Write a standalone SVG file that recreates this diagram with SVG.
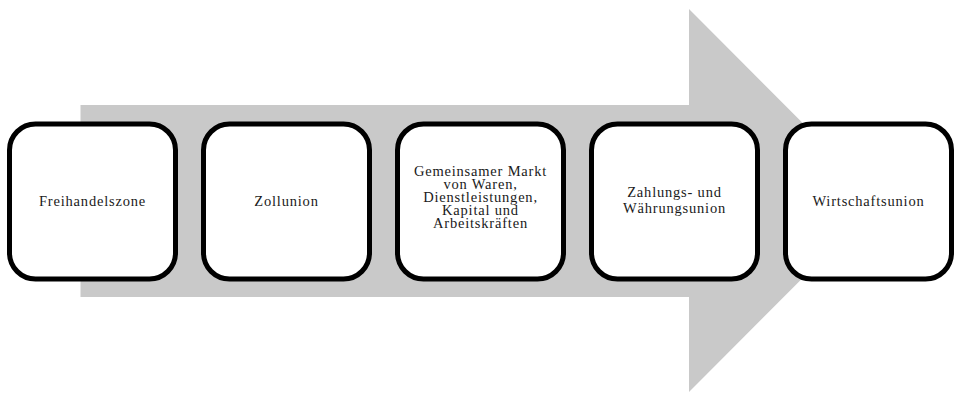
<svg xmlns="http://www.w3.org/2000/svg" width="956" height="393" viewBox="0 0 956 393">
<style>
.box{fill:#ffffff;stroke:#000000;stroke-width:5}
.t{font-family:"Liberation Serif","DejaVu Serif",serif;font-size:14.5px;letter-spacing:0.8px;fill:#1a1a1a;text-anchor:middle}
</style>
<rect width="956" height="393" fill="#ffffff"/>
<g id="connectors">
<polygon id="arrow" points="80.5,105 689,105 689,9 880,200.5 689,392 689,297 80.5,297" fill="#c9c9c9"/>
</g>
<g id="node1"><rect class="box" x="9.5" y="124" width="166" height="155" rx="26"/><text class="t" x="92.5" y="206">Freihandelszone</text></g>
<g id="node2"><rect class="box" x="203.5" y="124" width="166" height="155" rx="26"/><text class="t" x="286.5" y="206">Zollunion</text></g>
<g id="node3"><rect class="box" x="397.5" y="124" width="166" height="155" rx="26"/>
<text class="t" x="480.5" y="175.5">Gemeinsamer Markt</text>
<text class="t" x="480.5" y="188.5">von Waren,</text>
<text class="t" x="480.5" y="201.5">Dienstleistungen,</text>
<text class="t" x="480.5" y="214.5">Kapital und</text>
<text class="t" x="480.5" y="227.5">Arbeitskräften</text></g>
<g id="node4"><rect class="box" x="591.5" y="124" width="166" height="155" rx="26"/>
<text class="t" x="674.5" y="197">Zahlungs- und</text>
<text class="t" x="674.5" y="212.5">Währungsunion</text></g>
<g id="node5"><rect class="box" x="785.5" y="124" width="166" height="155" rx="26"/><text class="t" x="868.5" y="205.5">Wirtschaftsunion</text></g>
</svg>
